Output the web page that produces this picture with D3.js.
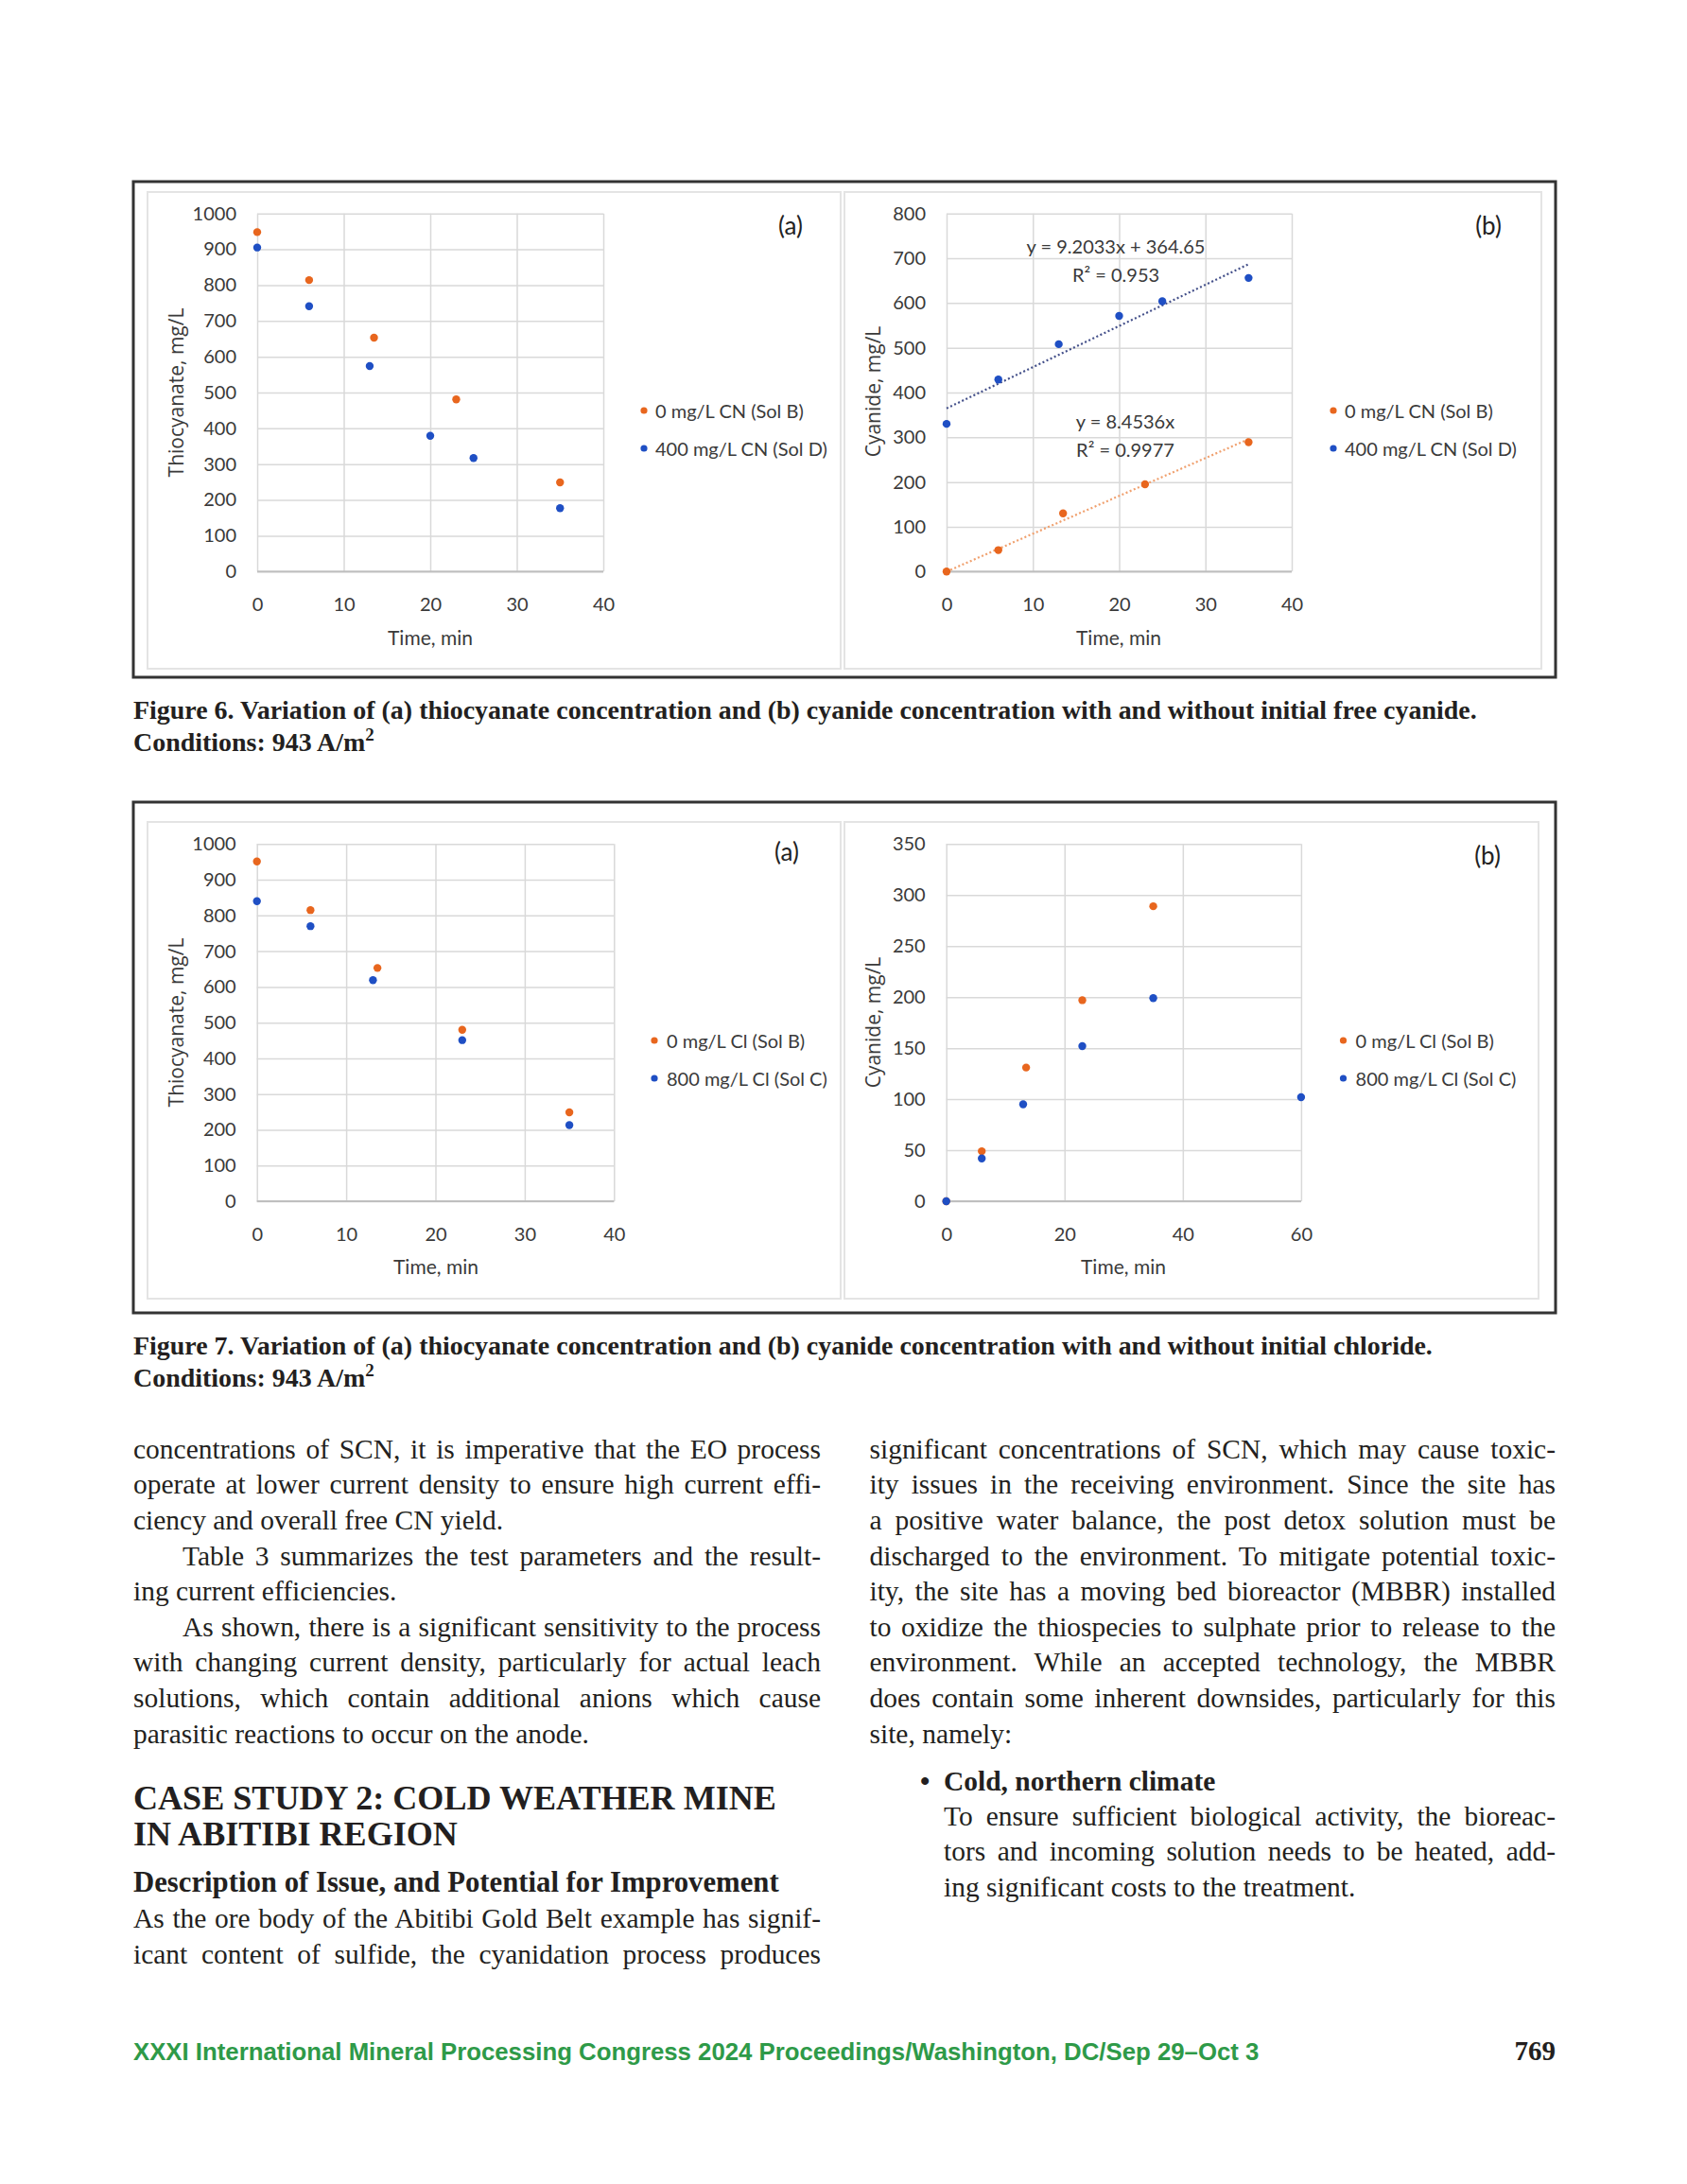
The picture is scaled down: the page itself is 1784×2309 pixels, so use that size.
<!DOCTYPE html>
<html lang="en">
<head>
<meta charset="UTF-8">
<title>Figures 6 and 7</title>
<script src="https://cdn.jsdelivr.net/npm/d3@7"></script>
<style>
  body { margin: 0; background: #fff; }
  svg { display: block; }
</style>
</head>
<body>
<script>
// ---- data ----
// Figure 6 (a) thiocyanate, mg/L
const f6aTimeB = [0, 6, 13.5, 23, 35];
const f6aScnB  = [948, 814, 653, 481, 249];
const f6aTimeD = [0, 6, 13, 20, 25, 35];
const f6aScnD  = [905, 741, 574, 379, 317, 177];
// Figure 6 (b) cyanide, mg/L
const f6bTimeB = [0, 6, 13.5, 23, 35];
const f6bCnB   = [0, 48, 130, 195, 289];
const f6bTimeD = [0, 6, 13, 20, 25, 35];
const f6bCnD   = [330, 429, 508, 571, 604, 656];
// linear fits printed on figure 6 (b)
const f6bFitD = { slope: 9.2033, intercept: 364.65, r2: "0.953" };
const f6bFitB = { slope: 8.4536, intercept: 0, r2: "0.9977" };
// Figure 7 (a) thiocyanate, mg/L
const f7aTimeB = [0, 6, 13.5, 23, 35];
const f7aScnB  = [951, 815, 653, 480, 249];
const f7aTimeC = [0, 6, 13, 23, 35];
const f7aScnC  = [840, 770, 619, 451, 213];
// Figure 7 (b) cyanide, mg/L
const f7bTimeB = [0, 6, 13.5, 23, 35];
const f7bCnB   = [0, 49, 131, 197, 289];
const f7bTimeC = [0, 6, 13, 23, 35, 60];
const f7bCnC   = [0, 42, 95, 152, 199, 102];

const ticks40   = [0, 10, 20, 30, 40];
const ticks60   = [0, 20, 40, 60];
const ticks1000 = d3.range(0, 1001, 100);
const ticks800  = d3.range(0, 801, 100);
const ticks350  = d3.range(0, 351, 50);

const labelsCN = ["0 mg/L CN (Sol B)", "400 mg/L CN (Sol D)"];
const labelsCl = ["0 mg/L Cl (Sol B)", "800 mg/L Cl (Sol C)"];

const orange = "#E8661E", blue = "#1F4FC4";
const chartFont = "Lato, 'Open Sans', sans-serif";
const serif = "'Liberation Serif', 'DejaVu Serif', serif";

const svg = d3.select("body").append("svg")
  .attr("width", 1784).attr("height", 2309);

// ---- figure frames ----
function frame(b, panels) {
  svg.append("rect").attr("x", b.x).attr("y", b.y).attr("width", b.w).attr("height", b.h)
    .attr("fill", "#fff").attr("stroke", "#333").attr("stroke-width", 3);
  panels.forEach(p => {
    svg.append("rect").attr("x", p[0]).attr("y", p[1])
      .attr("width", p[2] - p[0]).attr("height", p[3] - p[1])
      .attr("fill", "none").attr("stroke", "#e4e4e4").attr("stroke-width", 2);
  });
}
frame({ x: 141, y: 192, w: 1504, h: 524 }, [[156, 203, 889, 707], [893, 203, 1630, 707]]);
frame({ x: 141, y: 848, w: 1504, h: 540 }, [[156, 869, 889, 1373], [893, 869, 1627, 1373]]);

// ---- chart ----
function chart(c) {
  const g = svg.append("g");
  const x = d3.scaleLinear().domain(c.xDomain).range([c.left, c.right]);
  const y = d3.scaleLinear().domain(c.yDomain).range([c.bottom, c.top]);

  const ya = g.append("g").attr("transform", `translate(${c.left},0)`)
    .call(d3.axisLeft(y).tickValues(c.yTicks).tickFormat(d3.format("d"))
      .tickSize(-(c.right - c.left)).tickPadding(22));
  const xa = g.append("g").attr("transform", `translate(0,${c.bottom})`)
    .call(d3.axisBottom(x).tickValues(c.xTicks).tickFormat(d3.format("d"))
      .tickSize(-(c.bottom - c.top)).tickPadding(28));
  [ya, xa].forEach(a => {
    a.select(".domain").remove();
    a.selectAll(".tick line").attr("stroke", "#d9d9d9").attr("stroke-width", 1.5);
    a.selectAll("text").style("font", "20px " + chartFont).attr("fill", "#3a3a3a");
  });
  g.append("line").attr("x1", c.left).attr("x2", c.right)
    .attr("y1", c.bottom).attr("y2", c.bottom)
    .attr("stroke", "#bfbfbf").attr("stroke-width", 2);

  // fitted lines
  (c.fits || []).forEach(f => {
    g.append("line")
      .attr("x1", x(0)).attr("y1", y(f.intercept))
      .attr("x2", x(35)).attr("y2", y(f.slope * 35 + f.intercept))
      .attr("stroke", f.color).attr("stroke-width", 2.2)
      .attr("stroke-dasharray", "2,2.5");
    g.append("text").attr("x", f.pos[0]).attr("y", f.pos[1])
      .attr("text-anchor", "middle").style("font", "20px " + chartFont).attr("fill", "#3a3a3a")
      .text(f.intercept ? `y = ${f.slope}x + ${f.intercept}` : `y = ${f.slope}x`);
    g.append("text").attr("x", f.pos[0]).attr("y", f.pos[1] + 30)
      .attr("text-anchor", "middle").style("font", "20px " + chartFont).attr("fill", "#3a3a3a")
      .text(`R\u00B2 = ${f.r2}`);
  });

  // points
  c.series.forEach(s => {
    g.append("g").selectAll("circle")
      .data(d3.zip(s.t, s.v))
      .join("circle")
      .attr("cx", d => x(d[0])).attr("cy", d => y(d[1]))
      .attr("r", 4.2).attr("fill", s.color);
  });

  // legend
  c.series.forEach((s, i) => {
    g.append("circle").attr("cx", c.legend.mx).attr("cy", c.legend.rows[i])
      .attr("r", 3.6).attr("fill", s.color);
    g.append("text").attr("x", c.legend.tx).attr("y", c.legend.rows[i])
      .attr("dominant-baseline", "central")
      .style("font", "20px " + chartFont).attr("fill", "#3a3a3a")
      .text(s.name);
  });

  // panel letter and axis titles
  g.append("text").attr("x", c.letter[0]).attr("y", c.letter[1])
    .attr("text-anchor", "middle").attr("dominant-baseline", "central")
    .style("font", "26px " + chartFont).attr("fill", "#222").text(c.letter[2]);
  g.append("text").attr("x", c.xTitle[0]).attr("y", c.xTitle[1])
    .attr("text-anchor", "middle").attr("dominant-baseline", "central")
    .style("font", "21px " + chartFont).attr("fill", "#3a3a3a").text("Time, min");
  g.append("text")
    .attr("transform", `translate(${c.yTitle[0]},${c.yTitle[1]}) rotate(-90)`)
    .attr("text-anchor", "middle").attr("dominant-baseline", "central")
    .style("font", "21px 'Open Sans', sans-serif").attr("fill", "#3a3a3a").text(c.yTitle[2]);
}

chart({
  left: 272, right: 638, top: 225.7, bottom: 604.3,
  xDomain: [0, 40], yDomain: [0, 1000], xTicks: ticks40, yTicks: ticks1000,
  series: [
    { name: labelsCN[0], t: f6aTimeB, v: f6aScnB, color: orange },
    { name: labelsCN[1], t: f6aTimeD, v: f6aScnD, color: blue }
  ],
  legend: { mx: 681, tx: 693, rows: [434, 474] },
  letter: [836, 238, "(a)"], xTitle: [455, 673], yTitle: [186, 415, "Thiocyanate, mg/L"]
});

chart({
  left: 1001, right: 1366, top: 225.7, bottom: 604.3,
  xDomain: [0, 40], yDomain: [0, 800], xTicks: ticks40, yTicks: ticks800,
  series: [
    { name: labelsCN[0], t: f6bTimeB, v: f6bCnB, color: orange },
    { name: labelsCN[1], t: f6bTimeD, v: f6bCnD, color: blue }
  ],
  fits: [
    Object.assign({ color: "#F0A06E", pos: [1190, 453] }, f6bFitB),
    Object.assign({ color: "#44508A", pos: [1180, 268] }, f6bFitD)
  ],
  legend: { mx: 1410, tx: 1422, rows: [434, 474] },
  letter: [1574, 238, "(b)"], xTitle: [1183, 673], yTitle: [923, 414, "Cyanide, mg/L"]
});

chart({
  left: 271.7, right: 649.3, top: 892.3, bottom: 1270,
  xDomain: [0, 40], yDomain: [0, 1000], xTicks: ticks40, yTicks: ticks1000,
  series: [
    { name: labelsCl[0], t: f7aTimeB, v: f7aScnB, color: orange },
    { name: labelsCl[1], t: f7aTimeC, v: f7aScnC, color: blue }
  ],
  legend: { mx: 692, tx: 705, rows: [1100, 1140] },
  letter: [832, 900, "(a)"], xTitle: [461, 1338], yTitle: [186, 1081, "Thiocyanate, mg/L"]
});

chart({
  left: 1000.7, right: 1375.9, top: 892.3, bottom: 1270,
  xDomain: [0, 60], yDomain: [0, 350], xTicks: ticks60, yTicks: ticks350,
  series: [
    { name: labelsCl[0], t: f7bTimeB, v: f7bCnB, color: orange },
    { name: labelsCl[1], t: f7bTimeC, v: f7bCnC, color: blue }
  ],
  legend: { mx: 1420.5, tx: 1433.6, rows: [1100, 1140] },
  letter: [1573, 904, "(b)"], xTitle: [1188, 1338], yTitle: [923, 1081, "Cyanide, mg/L"]
});

// ---- page text ----
function txt(str, x, y, size, weight, family, fill) {
  return svg.append("text").attr("x", x).attr("y", y)
    .attr("font-family", family || serif).attr("font-size", size)
    .attr("font-weight", weight || "normal").attr("fill", fill || "#231f20")
    .text(str);
}
function fitTo(sel, width) {
  const w = sel.node().getComputedTextLength();
  sel.attr("font-size", parseFloat(sel.attr("font-size")) * width / w);
}
function caption(line1, y) {
  const a = txt(line1, 141, y, 28, "bold");
  const b = txt("Conditions: 943 A/m", 141, y + 34, 28, "bold");
  b.append("tspan").attr("dy", -11).attr("font-size", "0.68em").text("2");
  return [a, b];
}
const cap6 = caption("Figure 6. Variation of (a) thiocyanate concentration and (b) cyanide concentration with and without initial free cyanide.", 760);
const cap7 = caption("Figure 7. Variation of (a) thiocyanate concentration and (b) cyanide concentration with and without initial chloride.", 1432);
fitTo(cap6[0], 1421);
const capSize = cap6[0].attr("font-size");
[cap6[1], cap7[0], cap7[1]].forEach(s => s.attr("font-size", capSize));

const leftLines = [
  ["concentrations of SCN, it is imperative that the EO process", 1, 0],
  ["operate at lower current density to ensure high current effi-", 1, 0],
  ["ciency and overall free CN yield.", 0, 0],
  ["Table 3 summarizes the test parameters and the result-", 1, 1],
  ["ing current efficiencies.", 0, 0],
  ["As shown, there is a significant sensitivity to the process", 1, 1],
  ["with changing current density, particularly for actual leach", 1, 0],
  ["solutions, which contain additional anions which cause", 1, 0],
  ["parasitic reactions to occur on the anode.", 0, 0]
];
const leftTail = [
  ["As the ore body of the Abitibi Gold Belt example has signif-", 1, 0],
  ["icant content of sulfide, the cyanidation process produces", 1, 0]
];
const rightLines = [
  ["significant concentrations of SCN, which may cause toxic-", 1, 0],
  ["ity issues in the receiving environment. Since the site has", 1, 0],
  ["a positive water balance, the post detox solution must be", 1, 0],
  ["discharged to the environment. To mitigate potential toxic-", 1, 0],
  ["ity, the site has a moving bed bioreactor (MBBR) installed", 1, 0],
  ["to oxidize the thiospecies to sulphate prior to release to the", 1, 0],
  ["environment. While an accepted technology, the MBBR", 1, 0],
  ["does contain some inherent downsides, particularly for this", 1, 0],
  ["site, namely:", 0, 0]
];
const bulletLines = [
  ["To ensure sufficient biological activity, the bioreac-", 1, 0],
  ["tors and incoming solution needs to be heated, add-", 1, 0],
  ["ing significant costs to the treatment.", 0, 0]
];

const body = [];
function place(lines, x0, x1, y0, pitch) {
  lines.forEach((l, i) => {
    const xs = x0 + (l[2] ? 52 : 0);
    body.push({ sel: txt(l[0], xs, y0 + i * pitch, 28), width: x1 - xs, just: l[1] });
  });
}
const pitch = 37.6;
place(leftLines, 141, 868, 1541.7, pitch);
place(leftTail, 141, 868, 2038.3, 37.2);
place(rightLines, 919.5, 1645, 1541.7, pitch);
place(bulletLines, 998, 1645, 1930, 37.4);

// common body size so the widest justified line just fits
const ratio = d3.max(body.filter(b => b.just), b => b.sel.node().getComputedTextLength() / b.width);
const bodySize = Math.min(30, 28 / ratio * 0.99);
body.forEach(b => b.sel.attr("font-size", bodySize));
body.filter(b => b.just).forEach(b => {
  const w = b.sel.node().getComputedTextLength();
  const n = (b.sel.text().match(/ /g) || []).length;
  if (n) b.sel.style("word-spacing", ((b.width - w) / n) + "px");
});

// headings and bullet
const h1 = txt("CASE STUDY 2: COLD WEATHER MINE", 141, 1913.3, 33, "bold");
fitTo(h1, 680);
txt("IN ABITIBI REGION", 141, 1950.5, h1.attr("font-size"), "bold");
const h2 = txt("Description of Issue, and Potential for Improvement", 141, 2000, 27, "bold");
fitTo(h2, 683);
txt("\u2022", 973, 1892.5, bodySize, "bold");
txt("Cold, northern climate", 998, 1892.5, bodySize, "bold");

// footer
const foot = txt("XXXI International Mineral Processing Congress 2024 Proceedings/Washington, DC/Sep 29\u2013Oct 3",
  141, 2178, 23, "bold", "'Liberation Sans', Arial, sans-serif", "#2E9A48");
fitTo(foot, 1191);
txt("769", 1645, 2178, 29, "bold").attr("text-anchor", "end");
</script>
</body>
</html>
